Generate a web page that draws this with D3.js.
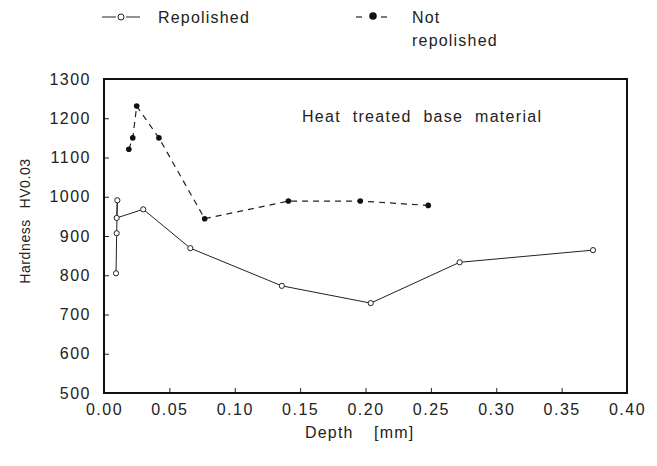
<!DOCTYPE html>
<html>
<head>
<meta charset="utf-8">
<script src="https://cdn.jsdelivr.net/npm/d3@7"></script>
<style>
  html, body { margin: 0; padding: 0; background: #fff; }
  svg { display: block; }
  text { font-family: "Liberation Sans", Arial, sans-serif; fill: #222; }
</style>
</head>
<body>
<script>
// ---- data ----
const repolishedDepth = [0.0092, 0.0097, 0.0102, 0.0097, 0.030, 0.066, 0.136, 0.204, 0.272, 0.374];
const repolishedHardness = [805, 907, 991, 946, 968, 869, 773, 729, 833, 864];
const notRepolishedDepth = [0.019, 0.022, 0.025, 0.042, 0.077, 0.141, 0.196, 0.248];
const notRepolishedHardness = [1121, 1150, 1231, 1150, 944, 989, 989, 978];
const xTicks = [0, 0.05, 0.10, 0.15, 0.20, 0.25, 0.30, 0.35, 0.40];
const yTicks = [500, 600, 700, 800, 900, 1000, 1100, 1200, 1300];
const seriesNames = ["Repolished", "Not", "repolished"];
const chartTitle = "Heat treated base material";
const xTitle = "Depth [mm]";
const yTitle = "Hardness HV0.03";

(function () {
const W = 657, H = 466;
const mLeft = 104, mRight = 627, mTop = 79, mBottom = 393;

const svg = d3.select("body").append("svg").attr("width", W).attr("height", H);

const x = d3.scaleLinear().domain([0, 0.4]).range([mLeft, mRight]);
const y = d3.scaleLinear().domain([500, 1300]).range([mBottom, mTop]);

// axes
const xAxis = d3.axisBottom(x).tickValues(xTicks).tickFormat(d3.format(".2f"))
  .tickSizeInner(-5).tickSizeOuter(0).tickPadding(11);
const yAxis = d3.axisLeft(y).tickValues(yTicks).tickFormat(d3.format("d"))
  .tickSizeInner(-5).tickSizeOuter(0).tickPadding(13);

const gx = svg.append("g").attr("transform", `translate(0,${mBottom})`).call(xAxis);
const gy = svg.append("g").attr("transform", `translate(${mLeft},0)`).call(yAxis);
[gx, gy].forEach(g => {
  g.select(".domain").remove();
  g.selectAll(".tick line").attr("stroke", "#222").attr("stroke-width", 1);
  g.selectAll(".tick text").attr("font-family", "Liberation Sans, Arial, sans-serif")
    .attr("font-size", 16).attr("fill", "#222").style("letter-spacing", "1.5px");
});

// frame
svg.append("rect").attr("x", mLeft).attr("y", mTop)
  .attr("width", mRight - mLeft).attr("height", mBottom - mTop)
  .attr("fill", "none").attr("stroke", "#111").attr("stroke-width", 2);

// lines
const rep = repolishedDepth.map((d, i) => [d, repolishedHardness[i]]);
const notr = notRepolishedDepth.map((d, i) => [d, notRepolishedHardness[i]]);
const line = d3.line().x(d => x(d[0])).y(d => y(d[1]));

svg.append("path").datum(rep).attr("d", line)
  .attr("fill", "none").attr("stroke", "#222").attr("stroke-width", 1);
svg.append("path").datum(notr).attr("d", line)
  .attr("fill", "none").attr("stroke", "#222").attr("stroke-width", 1.2)
  .attr("stroke-dasharray", "6,5");

svg.selectAll("circle.rep").data(rep).enter().append("circle")
  .attr("class", "rep").attr("cx", d => x(d[0])).attr("cy", d => y(d[1])).attr("r", 2.6)
  .attr("fill", "#fff").attr("stroke", "#222").attr("stroke-width", 1);
svg.selectAll("circle.notr").data(notr).enter().append("circle")
  .attr("class", "notr").attr("cx", d => x(d[0])).attr("cy", d => y(d[1])).attr("r", 2.8)
  .attr("fill", "#111");

// title
svg.append("text").attr("x", 302).attr("y", 122).attr("font-size", 16)
  .style("letter-spacing", "1.3px").style("word-spacing", "6px").text(chartTitle);

// axis titles
const xt = xTitle.split(" ");
svg.append("text").attr("x", 305).attr("y", 438).attr("font-size", 16)
  .style("letter-spacing", "1.2px").text(xt[0]);
svg.append("text").attr("x", 374).attr("y", 438).attr("font-size", 16)
  .style("letter-spacing", "1.2px").text(xt[1]);

svg.append("text").attr("transform", "translate(30,221) rotate(-90)")
  .attr("text-anchor", "middle").attr("font-size", 14)
  .style("letter-spacing", "0.6px").style("word-spacing", "6px").text(yTitle);

// legend
const lg = svg.append("g");
lg.append("line").attr("x1", 102).attr("x2", 116).attr("y1", 17).attr("y2", 17).attr("stroke", "#222");
lg.append("line").attr("x1", 126).attr("x2", 140).attr("y1", 17).attr("y2", 17).attr("stroke", "#222");
lg.append("circle").attr("cx", 121).attr("cy", 17).attr("r", 3).attr("fill", "#fff").attr("stroke", "#222");
lg.append("text").attr("x", 158).attr("y", 23).attr("font-size", 16)
  .style("letter-spacing", "1.2px").text(seriesNames[0]);

lg.append("line").attr("x1", 356).attr("x2", 362).attr("y1", 17).attr("y2", 17).attr("stroke", "#222").attr("stroke-width", 1.2);
lg.append("line").attr("x1", 381).attr("x2", 387).attr("y1", 17).attr("y2", 17).attr("stroke", "#222").attr("stroke-width", 1.2);
lg.append("circle").attr("cx", 373).attr("cy", 16).attr("r", 3.8).attr("fill", "#111");
lg.append("text").attr("x", 412).attr("y", 23).attr("font-size", 16)
  .style("letter-spacing", "1.2px").text(seriesNames[1]);
lg.append("text").attr("x", 412).attr("y", 46).attr("font-size", 16)
  .style("letter-spacing", "1.2px").text(seriesNames[2]);
})();
</script>
</body>
</html>
